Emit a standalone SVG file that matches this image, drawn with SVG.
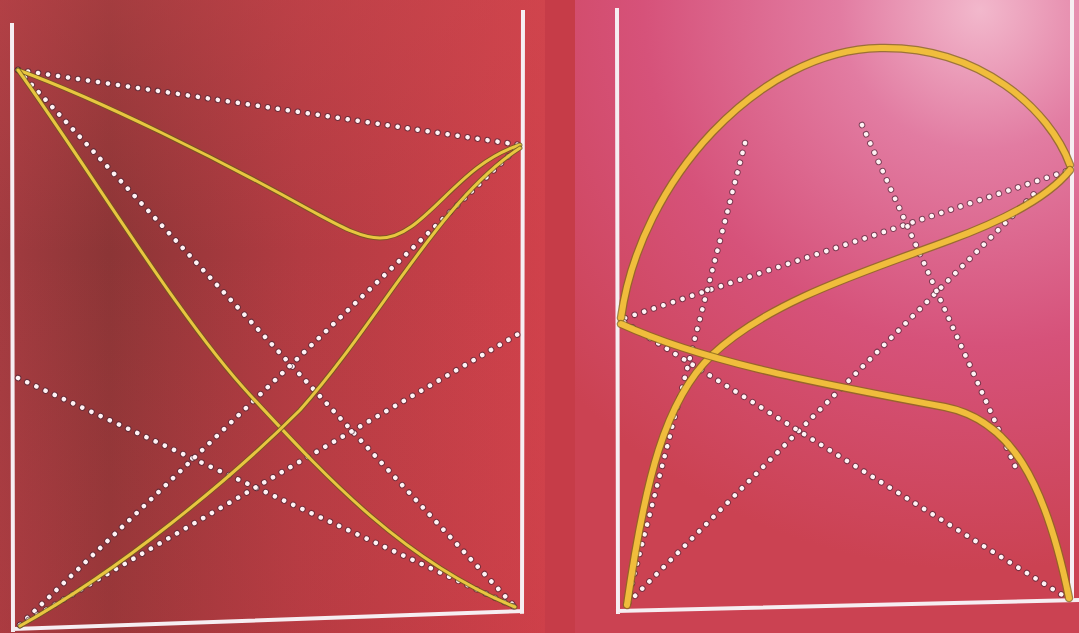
<svg xmlns="http://www.w3.org/2000/svg" width="1079" height="633" viewBox="0 0 1079 633">
<defs>
<linearGradient id="gl" x1="0" y1="0" x2="1" y2="0">
<stop offset="0" stop-color="#a23b40"/>
<stop offset="0.2" stop-color="#8c3536"/>
<stop offset="0.55" stop-color="#b23b42"/>
<stop offset="1" stop-color="#d0414b"/>
</linearGradient>
<linearGradient id="glv" x1="0" y1="0" x2="0" y2="1">
<stop offset="0" stop-color="#d04a50" stop-opacity="0.35"/>
<stop offset="0.4" stop-color="#d04a50" stop-opacity="0"/>
<stop offset="1" stop-color="#c83c44" stop-opacity="0.25"/>
</linearGradient>
<radialGradient id="gr" cx="980" cy="10" r="560" gradientUnits="userSpaceOnUse">
<stop offset="0" stop-color="#f2b8cc"/>
<stop offset="0.25" stop-color="#e27ca2"/>
<stop offset="0.6" stop-color="#d6527a"/>
<stop offset="1" stop-color="#cb4252"/>
</radialGradient>
<style>
.wall{stroke:#f6eef2;stroke-width:4;fill:none;stroke-linecap:square}
.dotb{stroke:#4a2838;stroke-width:6.5;fill:none;stroke-linecap:round;stroke-dasharray:0.1 10;opacity:0.65}
.dotw{stroke:#fff2f4;stroke-width:4.5;fill:none;stroke-linecap:round;stroke-dasharray:0.1 10}
.yb{stroke:#6e5a1c;stroke-width:5;fill:none;stroke-linecap:round;opacity:0.8}
.yw{stroke:#e8c640;stroke-width:3;fill:none;stroke-linecap:round}
.ybr{stroke:#8a6a1c;stroke-width:8.5;fill:none;stroke-linecap:round;opacity:0.8}
.ywr{stroke:#f0bd3c;stroke-width:6;fill:none;stroke-linecap:round}
</style>
</defs>
<rect x="0" y="0" width="1079" height="633" fill="#c63c48"/>
<rect x="0" y="0" width="545" height="633" fill="url(#gl)"/>
<rect x="0" y="0" width="545" height="633" fill="url(#glv)"/>
<rect x="575" y="0" width="504" height="633" fill="url(#gr)"/>

<g id="left-panel">
<path class="wall" d="M12,25 L13,630 M523,12 L522,612 M14,629 L522,611"/>
<g id="left-dotted">
<path class="dotb" d="M18,70 L520,145"/>
<path class="dotw" d="M18,70 L520,145"/>
<path class="dotb" d="M18,70 L515,607"/>
<path class="dotw" d="M18,70 L515,607"/>
<path class="dotb" d="M18,378 L515,607"/>
<path class="dotw" d="M18,378 L515,607"/>
<path class="dotb" d="M20,625 L520,145"/>
<path class="dotw" d="M20,625 L520,145"/>
<path class="dotb" d="M20,625 L520,333"/>
<path class="dotw" d="M20,625 L520,333"/>
</g>
<g id="left-curves">
<path class="yb" d="M18,70 C100,100 220,160 310,210 C340,226 360,238 380,238 C425,238 455,165 520,145"/>
<path class="yw" d="M18,70 C100,100 220,160 310,210 C340,226 360,238 380,238 C425,238 455,165 520,145"/>
<path class="yb" d="M18,70 C90,170 180,320 250,395 C320,470 400,560 515,607"/>
<path class="yw" d="M18,70 C90,170 180,320 250,395 C320,470 400,560 515,607"/>
<path class="yb" d="M20,626 C120,570 230,480 300,410 C380,320 440,200 520,148"/>
<path class="yw" d="M20,626 C120,570 230,480 300,410 C380,320 440,200 520,148"/>
</g>
</g>

<g id="right-panel">
<path class="wall" d="M617,10 L618,612 M1072,0 L1072,600 M618,611 L1078,600"/>
<g id="right-dotted">
<path class="dotb" d="M625,318 L1070,170"/>
<path class="dotw" d="M625,318 L1070,170"/>
<path class="dotb" d="M745,143 L627,603"/>
<path class="dotw" d="M745,143 L627,603"/>
<path class="dotb" d="M628,603 L1035,193"/>
<path class="dotw" d="M628,603 L1035,193"/>
<path class="dotb" d="M862,125 L1015,466"/>
<path class="dotw" d="M862,125 L1015,466"/>
<path class="dotb" d="M624,322 L1067,598"/>
<path class="dotw" d="M624,322 L1067,598"/>
</g>
<g id="right-curves">
<path class="ybr" d="M621,318 C640,180 760,50 880,48 C980,46 1050,110 1070,165"/>
<path class="ywr" d="M621,318 C640,180 760,50 880,48 C980,46 1050,110 1070,165"/>
<path class="ybr" d="M627,605 C645,480 665,400 712,355 C770,300 870,270 950,240 C1010,218 1050,195 1070,170"/>
<path class="ywr" d="M627,605 C645,480 665,400 712,355 C770,300 870,270 950,240 C1010,218 1050,195 1070,170"/>
<path class="ybr" d="M621,324 C700,360 800,380 945,407 C1010,420 1045,480 1069,598"/>
<path class="ywr" d="M621,324 C700,360 800,380 945,407 C1010,420 1045,480 1069,598"/>
</g>
</g>
</svg>
